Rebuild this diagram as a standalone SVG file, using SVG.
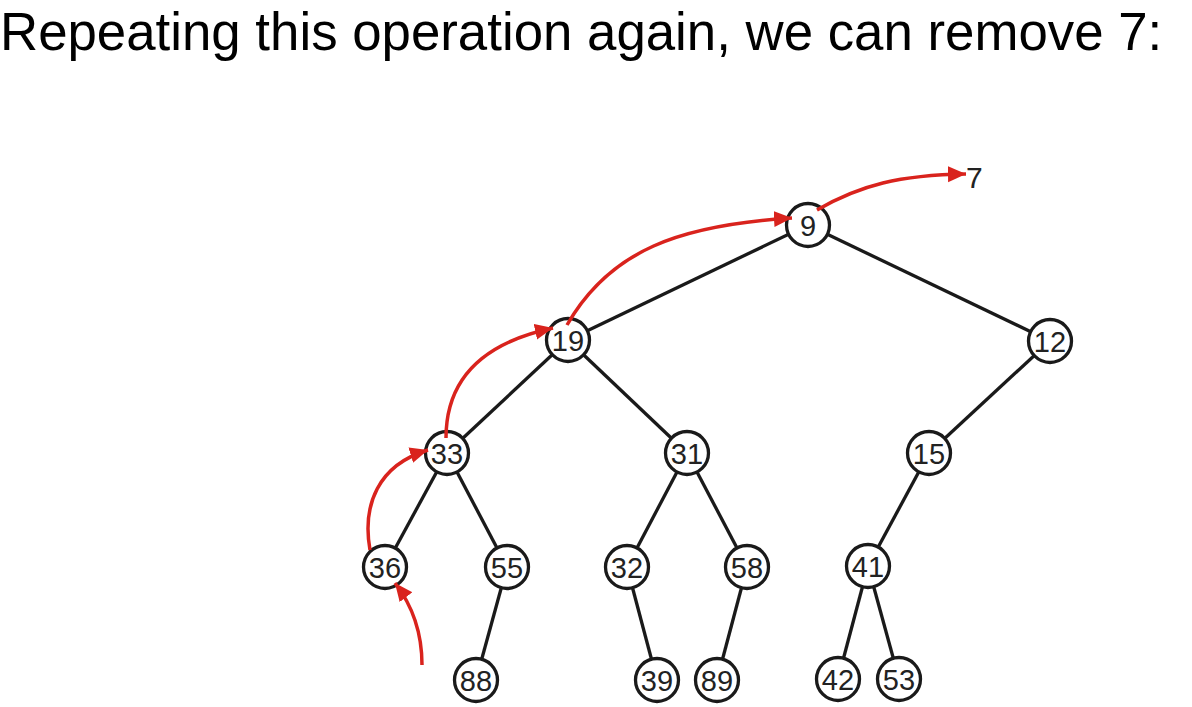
<svg xmlns="http://www.w3.org/2000/svg" width="1192" height="707" viewBox="0 0 1192 707">
<style>
.edge{stroke:#1a1a1a;stroke-width:3.3;fill:none}
.node circle{fill:#fff;stroke:#1a1a1a;stroke-width:3.3}
.node text{font-family:"Liberation Sans",Arial,sans-serif;font-size:29px;fill:#222;text-anchor:middle}
.arrow{stroke:#d9231d;stroke-width:3.5;fill:none;marker-end:url(#ah)}
.title{font-family:"Liberation Sans",Arial,sans-serif;font-size:52.8px;fill:#000}
.lbl{font-family:"Liberation Sans",Arial,sans-serif;font-size:30px;fill:#222}
</style>
<defs>
<marker id="ah" markerUnits="userSpaceOnUse" markerWidth="22" markerHeight="18" refX="18" refY="8" orient="auto">
<path d="M0,0 L18,8 L0,16 Z" fill="#d9231d"/>
</marker>
</defs>
<rect width="1192" height="707" fill="#fff"/>
<text class="title" x="0" y="50">Repeating this operation again, we can remove 7:</text>
<g id="edges">
<line class="edge" x1="808" y1="225" x2="568" y2="340"/>
<line class="edge" x1="808" y1="225" x2="1050" y2="341"/>
<line class="edge" x1="568" y1="340" x2="447" y2="453"/>
<line class="edge" x1="568" y1="340" x2="687" y2="453"/>
<line class="edge" x1="1050" y1="341" x2="929" y2="453"/>
<line class="edge" x1="447" y1="453" x2="385" y2="567"/>
<line class="edge" x1="447" y1="453" x2="507" y2="567"/>
<line class="edge" x1="687" y1="453" x2="627" y2="567"/>
<line class="edge" x1="687" y1="453" x2="747" y2="567"/>
<line class="edge" x1="929" y1="453" x2="868" y2="566"/>
<line class="edge" x1="507" y1="567" x2="476" y2="680"/>
<line class="edge" x1="627" y1="567" x2="657" y2="680"/>
<line class="edge" x1="747" y1="567" x2="717" y2="680"/>
<line class="edge" x1="868" y1="566" x2="838" y2="679"/>
<line class="edge" x1="868" y1="566" x2="899" y2="679"/>
</g>
<g id="n9" class="node"><circle cx="808" cy="225" r="21.5"/><text x="808" y="235.5">9</text></g>
<g id="n19" class="node"><circle cx="568" cy="340" r="21.5"/><text x="568" y="350.5">19</text></g>
<g id="n12" class="node"><circle cx="1050" cy="341" r="21.5"/><text x="1050" y="351.5">12</text></g>
<g id="n33" class="node"><circle cx="447" cy="453" r="21.5"/><text x="447" y="463.5">33</text></g>
<g id="n31" class="node"><circle cx="687" cy="453" r="21.5"/><text x="687" y="463.5">31</text></g>
<g id="n15" class="node"><circle cx="929" cy="453" r="21.5"/><text x="929" y="463.5">15</text></g>
<g id="n36" class="node"><circle cx="385" cy="567" r="21.5"/><text x="385" y="577.5">36</text></g>
<g id="n55" class="node"><circle cx="507" cy="567" r="21.5"/><text x="507" y="577.5">55</text></g>
<g id="n32" class="node"><circle cx="627" cy="567" r="21.5"/><text x="627" y="577.5">32</text></g>
<g id="n58" class="node"><circle cx="747" cy="567" r="21.5"/><text x="747" y="577.5">58</text></g>
<g id="n41" class="node"><circle cx="868" cy="566" r="21.5"/><text x="868" y="576.5">41</text></g>
<g id="n88" class="node"><circle cx="476" cy="680" r="21.5"/><text x="476" y="690.5">88</text></g>
<g id="n39" class="node"><circle cx="657" cy="680" r="21.5"/><text x="657" y="690.5">39</text></g>
<g id="n89" class="node"><circle cx="717" cy="680" r="21.5"/><text x="717" y="690.5">89</text></g>
<g id="n42" class="node"><circle cx="838" cy="679" r="21.5"/><text x="838" y="689.5">42</text></g>
<g id="n53" class="node"><circle cx="899" cy="679" r="21.5"/><text x="899" y="689.5">53</text></g>
<g id="arrows">
<path class="arrow" d="M422,665 C422,630 412,605 395,583"/>
<path class="arrow" d="M370,550 C362,505 378,465 428,450"/>
<path class="arrow" d="M446,438 C446,380 482,343 553,328"/>
<path class="arrow" d="M567,325 C610,250 680,225 792,218"/>
<path class="arrow" d="M817,210 C860,185 900,175 966,174"/>
</g>
<text class="lbl" x="966" y="188">7</text>
</svg>
